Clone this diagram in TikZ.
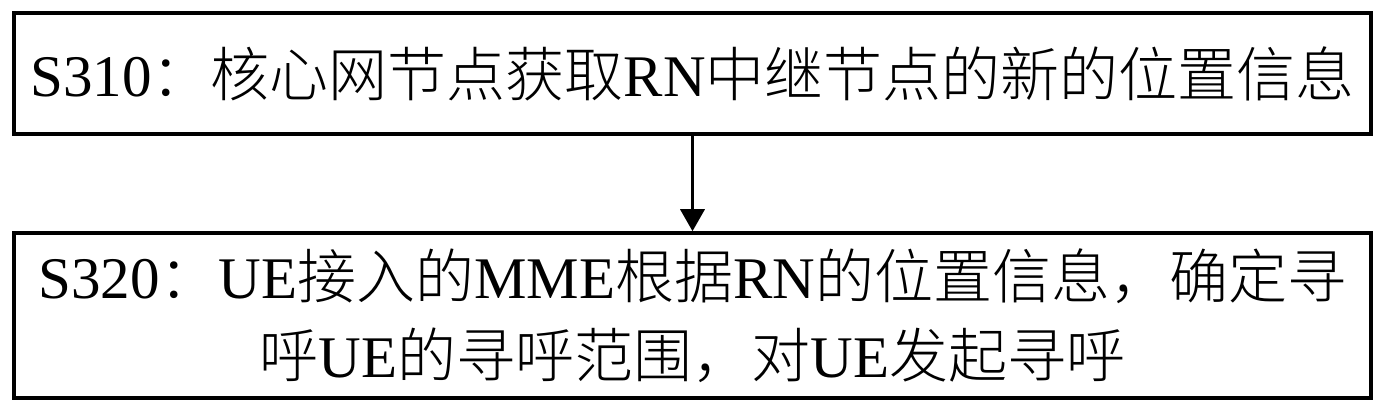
\documentclass[tikz,border=0pt]{standalone}
\usepackage{fontspec}
\setmainfont{Liberation Serif}
\newfontfamily\cjk{Noto Sans CJK SC Light}
\usetikzlibrary{arrows.meta}
\tikzset{
  stepbox/.style={draw=black, line width=3.5pt, inner sep=0pt, align=center,
    font=\fontsize{59pt}{79pt}\selectfont},
  flowarrow/.style={line width=3.5pt, -{Triangle[width=24pt,length=22pt]}}
}
\begin{document}
\begin{tikzpicture}[x=1pt,y=-1pt]
\useasboundingbox (0,0) rectangle (1386,414);
\node[stepbox, minimum width=1357pt, minimum height=121pt] (s1) at (692.5,73.5)
  {S310{\cjk ：核心网节点获取}RN{\cjk 中继节点的新的位置信息}};
\node[stepbox, minimum width=1357pt, minimum height=165pt] (s2) at (692.5,315.5)
  {S320{\cjk ：}UE{\cjk 接入的}MME{\cjk 根据}RN{\cjk 的位置信息，确定寻}\\
   {\cjk 呼}UE{\cjk 的寻呼范围，对}UE{\cjk 发起寻呼}};
\draw[flowarrow] (s1.south) -- (s2.north);
\end{tikzpicture}
\end{document}
